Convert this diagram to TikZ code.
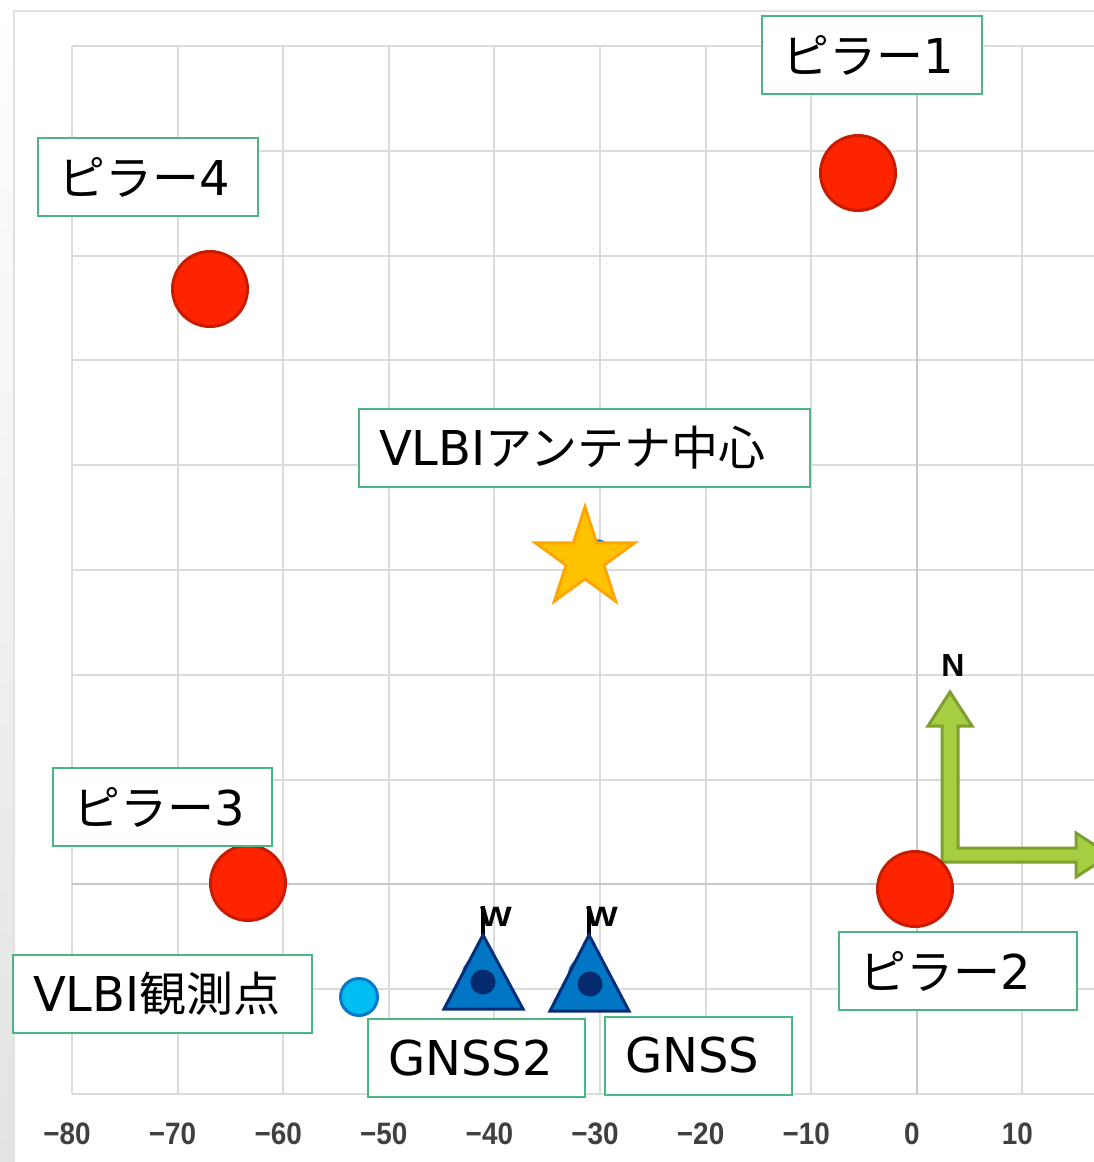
\documentclass[tikz,border=0pt]{standalone}
\usepackage{fontspec}
\setmainfont{DejaVu Sans}
\newfontfamily\jp{Noto Sans CJK JP}
\newfontfamily\ar{Liberation Sans}
\usetikzlibrary{shapes.geometric}
\definecolor{gridc}{RGB}{219,219,219}
\definecolor{axisc}{RGB}{200,200,200}
\definecolor{framec}{RGB}{225,225,225}
\definecolor{lblgreen}{RGB}{76,182,130}
\definecolor{redfill}{RGB}{255,36,0}
\definecolor{redline}{RGB}{200,28,0}
\definecolor{cyanfill}{RGB}{0,190,242}
\definecolor{cyanline}{RGB}{10,120,200}
\definecolor{trifill}{RGB}{0,118,196}
\definecolor{triline}{RGB}{5,45,120}
\definecolor{tridot}{RGB}{5,42,110}
\definecolor{hidblue}{RGB}{25,140,210}
\definecolor{starfill}{RGB}{255,194,0}
\definecolor{starline}{RGB}{255,165,0}
\definecolor{arrowfill}{RGB}{166,206,64}
\definecolor{arrowline}{RGB}{125,160,50}
\definecolor{tickc}{RGB}{64,64,64}
\newcommand{\jpt}[1]{{\jp\fontsize{47}{50}\selectfont #1}}
\tikzset{
  gridline/.style={draw=gridc, line width=2pt},
  axisline/.style={draw=axisc, line width=2pt},
  lbl/.style={draw=lblgreen, line width=2pt, fill=white, minimum height=78pt,
    inner xsep=20pt, inner ysep=0pt, align=left, anchor=center,
    font=\fontsize{48}{50}\selectfont},
  redpt/.style={circle, fill=redfill, draw=redline, line width=3pt, minimum size=75pt, inner sep=0pt},
  cyanpt/.style={circle, fill=cyanfill, draw=cyanline, line width=3pt, minimum size=37pt, inner sep=0pt},
  hidpt/.style={circle, fill=hidblue, draw=cyanline, line width=1.5pt, minimum size=28pt, inner sep=0pt},
  tri/.style={fill=trifill, draw=triline, line width=3pt, line join=miter},
  tdot/.style={circle, fill=tridot, minimum size=25pt, inner sep=0pt},
  ticklbl/.style={text=tickc, font=\ar\bfseries\fontsize{31}{33}\selectfont, inner sep=0pt},
  wlbl/.style={font=\ar\bfseries\fontsize{28}{30}\selectfont, inner sep=0pt, anchor=west},
  pole/.style={draw=black, line width=3.5pt},
}
\begin{document}
\begin{tikzpicture}[x=1pt,y=-1pt]
\useasboundingbox (0,0) rectangle (1094,1162);
\clip (0,0) rectangle (1094,1162);
\fill[white] (0,0) rectangle (1094,1162);
\shade[top color=white, bottom color=black!11] (0,0) rectangle (13,1162);
% frame
\draw[draw=framec, line width=2pt] (14,1162) -- (14,11) -- (1094,11);
% grid
\foreach \k in {0,...,9} \draw[gridline] ({72+105.6*\k},46) -- ({72+105.6*\k},1094);
\foreach \j in {0,...,10} \draw[gridline] (72,{46+104.8*\j}) -- (1094,{46+104.8*\j});
\draw[axisline] (916.8,46) -- (916.8,1094);
\draw[axisline] (72,884.4) -- (1094,884.4);
% tick labels
\foreach \lab [count=\k from 0] in {−80,−70,−60,−50,−40,−30,−20,−10,0,10}
  \node[ticklbl] (t\k) at ({67+105.6*\k},1134) {\scalebox{0.9}[1]{\lab}};
% compass
\filldraw[fill=arrowfill, draw=arrowline, line width=3pt, line join=miter]
  (942,862) -- (942,726) -- (928,726) -- (950,692) -- (972,726) -- (958,726)
  -- (958,848) -- (1076,848) -- (1076,833) -- (1110,855) -- (1076,877) -- (1076,862) -- cycle;
\node[font=\ar\bfseries\fontsize{32}{34}\selectfont, inner sep=0pt] (north) at (953,665) {N};
% hidden blue markers
\node[hidpt] (h0) at (597,554) {};
\node[hidpt] (h1) at (477,973) {};
\node[hidpt] (h2) at (583,973) {};
% star
\node[star, star points=5, star point ratio=2.618, minimum size=104pt, inner sep=0pt,
  fill=starfill, draw=starline, line width=3pt] (antc) at (585,559) {};
% antenna poles and W marks
\coordinate (a1) at (483,935);
\coordinate (a2) at (589,935);
\draw[pole] (a1) -- ++(0,-29);
\draw[pole] (a2) -- ++(0,-29);
\node[wlbl] (w1) at (480,917) {\scalebox{1.2}[1]{W}};
\node[wlbl] (w2) at (586,917) {\scalebox{1.2}[1]{W}};
% triangles
\filldraw[tri] (a1) -- (523,1009) -- (444,1009) -- cycle;
\node[tdot] (d1) at (483,982) {};
\filldraw[tri] (a2) -- (629,1011) -- (550,1011) -- cycle;
\node[tdot] (d2) at (590,984) {};
% red pillars
\node[redpt] (p1) at (858,173) {};
\node[redpt] (p4) at (210,289) {};
\node[redpt] (p3) at (248,883) {};
\node[redpt] (p2) at (915,889) {};
% VLBI point
\node[cyanpt] (vp) at (359,997) {};
% labels
\node[lbl, text width=180pt] (l1) at (872,55) {\jpt{ピラー}1};
\node[lbl, text width=180pt] (l4) at (148,177) {\jpt{ピラー}4};
\node[lbl, text width=411pt] (lc) at (584.5,448) {VLBI\jpt{アンテナ中心}};
\node[lbl, text width=179pt] (l3) at (162.5,807) {\jpt{ピラー}3};
\node[lbl, text width=198pt] (l2) at (958,971) {\jpt{ピラー}2};
\node[lbl, text width=259pt] (lv) at (162.5,994) {VLBI\jpt{観測点}};
\node[lbl, text width=177pt] (lg2) at (476.5,1058) {GNSS2};
\node[lbl, text width=147pt] (lg) at (698.5,1055.5) {GNSS};
\end{tikzpicture}
\end{document}
